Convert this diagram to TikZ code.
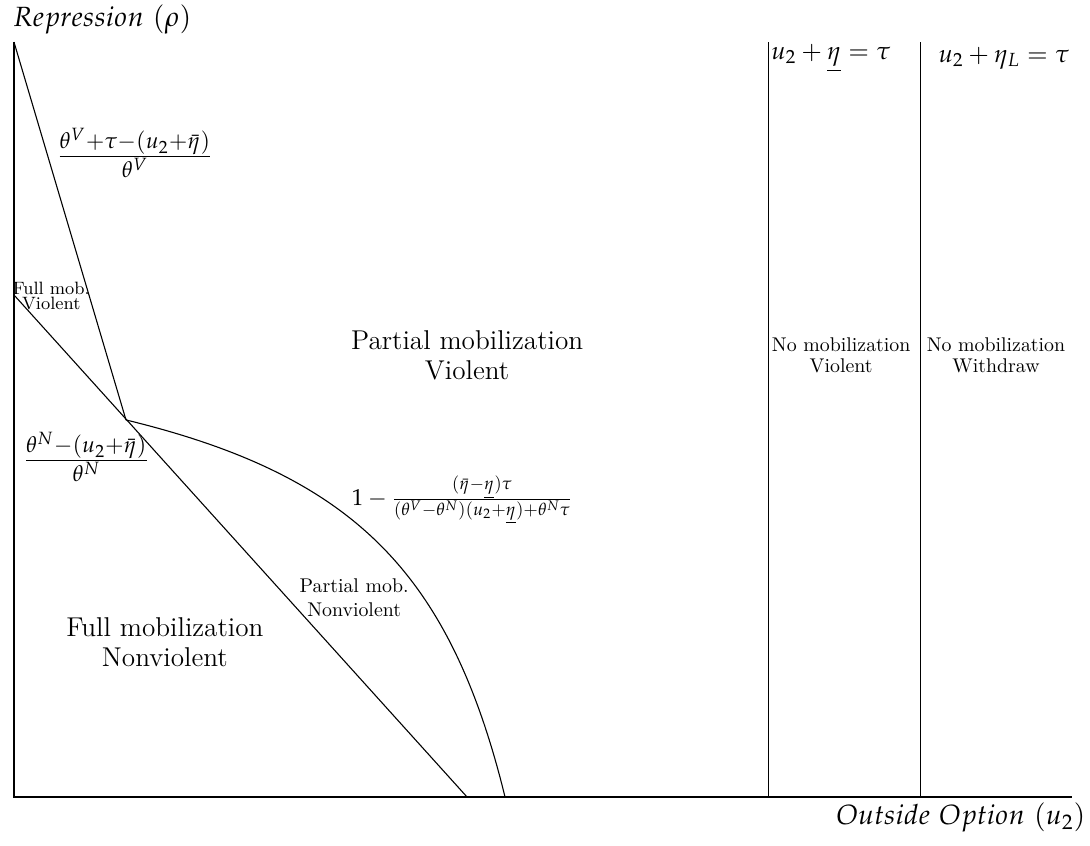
\documentclass[tikz,border=0pt]{standalone}
\usepackage{mathpazo}
\usetikzlibrary{positioning,calc}
\tikzset{
  boundary/.style={line width=0.55pt, color=black},
  axisline/.style={line width=0.55pt, color=black},
  regionlabel/.style={font=#1, align=center, inner sep=1pt},
  regionlabel/.default=\normalsize,
  axislabel/.style={font=\fontsize{14}{17}\selectfont, inner sep=1pt},
  fraclabel/.style={font=\fontsize{14.9}{18}\selectfont, inner sep=1pt},
  curvelabel/.style={font=\fontsize{11.6}{14}\selectfont, inner sep=1pt},
  eqlabel/.style={font=\fontsize{12.6}{15}\selectfont, inner sep=1pt},
}

\begin{document}
\begin{tikzpicture}
  \useasboundingbox (-0.248,-0.85) rectangle (19.044,14.106);
  % Axes
  \coordinate (O) at (0,0);
  \coordinate (ytop) at (0,13.36);
  \coordinate (xend) at (18.73,0);
  \draw[axisline] (ytop) -- (O) -- (xend);
  \node[axislabel] (ylab) at (1.56,13.77) {$Repression\ (\rho)$};
  \node[axislabel] (xlab) at (16.76,-0.37) {$Outside\ Option\ (u_2)$};
  % Boundaries
  \coordinate (kink) at (1.982,6.673);
  \coordinate (nvtop) at (0,8.885);
  \coordinate (nvbot) at (8.018,0);
  \draw[boundary] (ytop) -- (kink);
  \draw[boundary] (nvtop) -- (nvbot);
  \draw[boundary] plot[domain=1.982:8.691, samples=150] (\x,{8.823-19.07/(10.852-\x)});
  % Thresholds
  \coordinate (tlow) at (13.36,0);
  \coordinate (thigh) at (16.04,0);
  \draw[boundary] (tlow) -- (tlow |- ytop);
  \draw[boundary] (thigh) -- (thigh |- ytop);
  \node[eqlabel] (eqlow) at (14.46,13.08) {$u_2+\underline{\eta}=\tau$};
  \node[eqlabel] (eqhigh) at (17.52,13.08) {$u_2+\eta_L=\tau$};
  % Curve labels
  \node[fraclabel] (fV) at (2.14,11.40) {$\frac{\theta^V+\tau-(u_2+\bar{\eta})}{\theta^V}$};
  \node[fraclabel] (fN) at (1.28,6.02) {$\frac{\theta^N-(u_2+\bar{\eta})}{\theta^N}$};
  \node[curvelabel] (fP) at (7.93,5.26)
    {$1-\frac{(\bar{\eta}-\underline{\eta})\tau}{(\theta^V-\theta^N)(u_2+\underline{\eta})+\theta^N\tau}$};
  % Regions
  \node[regionlabel={\fontsize{9}{7.5}\selectfont}] (fmv) at (0.66,8.87) {Full mob.\\Violent};
  \node[regionlabel={\fontsize{13.7}{15}\selectfont}] (pmv) at (8.02,7.82) {Partial mobilization\\Violent};
  \node[regionlabel] (pmn) at (6.02,3.52) {Partial mob.\\Nonviolent};
  \node[regionlabel={\fontsize{13.7}{15}\selectfont}] (fmn) at (2.67,2.74) {Full mobilization\\Nonviolent};
  \node[regionlabel={\fontsize{10}{10.5}\selectfont}] (nmv) at (14.64,7.82) {No mobilization\\Violent};
  \node[regionlabel={\fontsize{10}{10.5}\selectfont}] (nmw) at (17.38,7.82) {No mobilization\\Withdraw};
\end{tikzpicture}
\end{document}
